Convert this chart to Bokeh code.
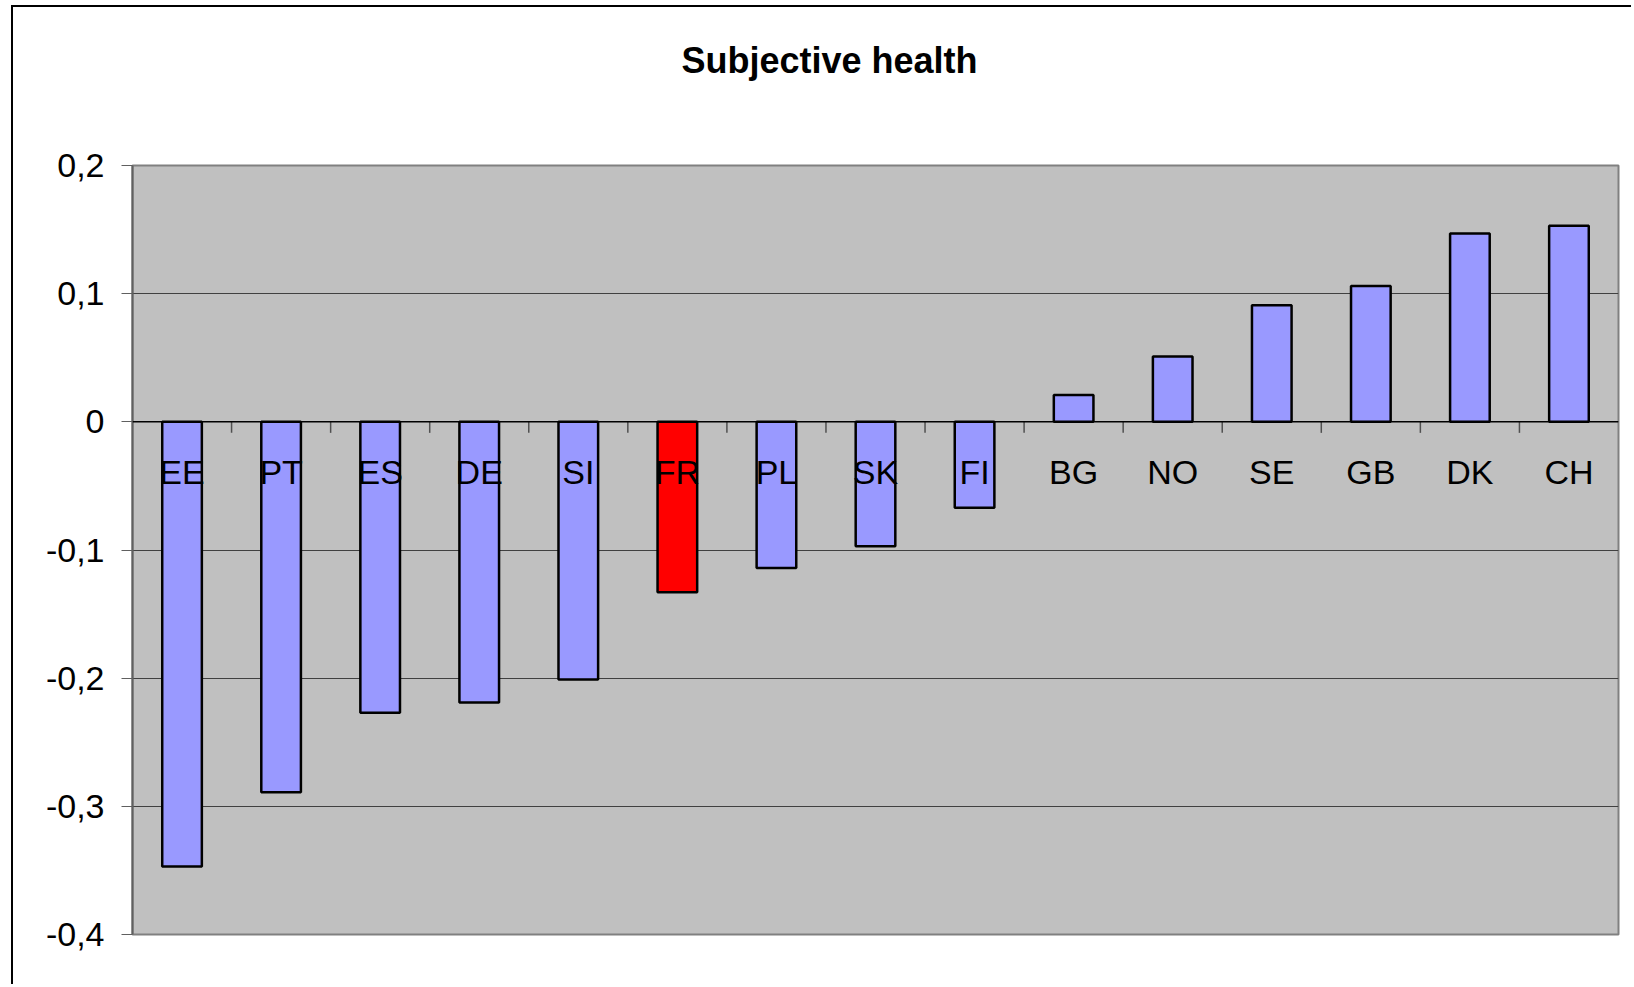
from bokeh.plotting import figure
from bokeh.models import (ColumnDataSource, FactorRange, Range1d, FixedTicker, Span,
                          InlineStyleSheet)
from bokeh.transform import dodge
from bokeh.core.properties import value
from bokeh.embed import file_html
from bokeh.resources import INLINE

# ---- data ----
countries = ["EE", "PT", "ES", "DE", "SI", "FR", "PL", "SK", "FI",
             "BG", "NO", "SE", "GB", "DK", "CH"]
health = [-0.347, -0.289, -0.227, -0.219, -0.201, -0.133, -0.114, -0.097, -0.067,
          0.021, 0.051, 0.091, 0.106, 0.147, 0.153]
highlight = "FR"
y_ticks = [-0.4, -0.3, -0.2, -0.1, 0, 0.1, 0.2]
y_tick_labels = ["-0,4", "-0,3", "-0,2", "-0,1", "0", "0,1", "0,2"]
title_text = "Subjective health"

# ---- styles ----
BAR_COLOR = "#9999FF"
HIGHLIGHT_COLOR = "#FF0000"
FONT = "Liberation Sans"
TICK_LEN = 0.0086

colors = [HIGHLIGHT_COLOR if c == highlight else BAR_COLOR for c in countries]
src = ColumnDataSource(dict(cat=countries, val=health, color=colors,
                            zero=[0] * len(countries)))
bound_src = ColumnDataSource(dict(cat=countries[:-1],
                                  y0=[0] * (len(countries) - 1),
                                  y1=[-TICK_LEN] * (len(countries) - 1)))

W, H = 1620, 979
p = figure(width=W, height=H, x_range=FactorRange(*countries, range_padding=0),
           y_range=Range1d(y_ticks[0], y_ticks[-1]),
           output_backend="svg", toolbar_location=None,
           title=title_text + "\n \n ",
           min_border_left=119, min_border_right=15, min_border_top=158,
           min_border_bottom=52, margin=(5, 0, 0, 11))
p.x_range.factor_padding = 0
p.stylesheets = [InlineStyleSheet(css=":host { border-left: 2px solid #000; border-top: 2px solid #000; }")]

p.title.align = "left"
p.title.offset = 549
p.title.standoff = 6
p.title.text_font = FONT
p.title.text_font_size = "36px"
p.title.text_font_style = "bold"
p.title.text_color = "black"

p.background_fill_color = "#C0C0C0"
p.border_fill_color = "white"
p.outline_line_color = "#808080"
p.outline_line_width = 2

p.xaxis.visible = False
p.xgrid.visible = False

p.yaxis.ticker = FixedTicker(ticks=y_ticks)
p.yaxis.major_label_overrides = {t: l for t, l in zip(y_ticks, y_tick_labels)}
p.yaxis.major_label_text_font = FONT
p.yaxis.major_label_text_font_size = "34px"
p.yaxis.major_label_text_color = "black"
p.yaxis.major_tick_out = 11
p.yaxis.major_tick_in = 0
p.yaxis.minor_tick_out = 0
p.yaxis.minor_tick_in = 0
p.yaxis.major_label_standoff = 17
p.yaxis.axis_line_color = "#606060"
p.yaxis.axis_line_width = 2
p.yaxis.major_tick_line_color = "#606060"
p.yaxis.major_tick_line_width = 1

p.ygrid.ticker = FixedTicker(ticks=y_ticks)
p.ygrid.grid_line_color = "#404040"
p.ygrid.grid_line_width = 1

p.vbar(x="cat", top="val", bottom="zero", width=0.4, source=src,
       fill_color="color", line_color="black", line_width=2.5)

p.add_layout(Span(location=0, dimension="width", line_color="black", line_width=1.5))

p.segment(x0=dodge("cat", 0.5, range=p.x_range), x1=dodge("cat", 0.5, range=p.x_range),
          y0="y0", y1="y1", source=bound_src, line_color="#505050", line_width=1.5)

p.text(x="cat", y="zero", text="cat", source=src, y_offset=50,
       text_align="center", text_baseline="middle",
       text_font=value(FONT), text_font_size="34px", text_color="black")

open("out.html", "w").write(file_html(p, INLINE))
